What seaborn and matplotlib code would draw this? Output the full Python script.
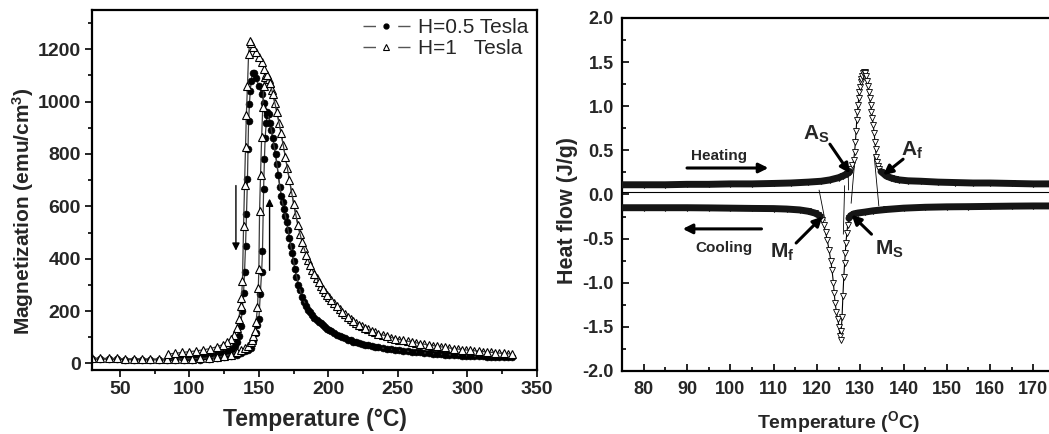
import numpy as np
import pandas as pd
import matplotlib
matplotlib.use('Agg')
import matplotlib.pyplot as plt
from matplotlib.lines import Line2D
from matplotlib.ticker import MultipleLocator, FormatStrFormatter
import seaborn as sns

# ---------------- Left panel data: magnetization vs temperature ----------------
# H = 1 Tesla, cooling branch (T descending)
t1_cool = [332, 326, 320, 314, 308, 302, 296, 290, 284, 278, 272, 266, 260, 254, 248, 242, 236, 231,
           226, 222, 218, 214, 210, 206, 202, 199, 196, 193, 190, 187, 184, 181, 178, 175, 172, 169,
           166, 163, 160, 158, 156, 154, 152, 150, 148, 146, 144.5, 143.5, 142.6, 141.8, 141.0, 140.4,
           139.7, 139.0, 138.2, 137.5, 136.8, 135.5, 134, 132, 130, 127, 124, 120, 115, 110, 105, 100,
           95, 90, 85]
m1_cool = [36, 38, 41, 44, 47, 50, 53, 57, 61, 66, 71, 76, 82, 88, 95, 104, 114, 124,
           136, 148, 162, 178, 197, 218, 242, 262, 285, 310, 340, 375, 415, 465, 530, 610, 700, 790,
           880, 960, 1030, 1070, 1100, 1125, 1150, 1170, 1190, 1210, 1225, 1230, 1180, 1060, 950, 826,
           680, 524, 314, 250, 218, 168, 135, 110, 95, 82, 72, 64, 57, 52, 48, 45,
           42, 39, 36]
# H = 1 Tesla, heating branch (T ascending)
t1_heat = [30, 36, 42, 48, 54, 60, 66, 72, 78, 84, 90, 96, 102, 108, 114, 120, 125, 130, 134, 137,
           140, 142, 144, 145, 146, 147, 148, 149, 149.6, 150, 150.5, 151.2, 152, 152.8, 153.5, 154.3,
           155, 156, 157, 158, 159.5, 161.5, 164.5, 167.5, 170.5, 173.5, 176.5, 179.5, 182.5, 185.5,
           188.5, 191.5, 194.5, 197.5, 200.5, 204, 208, 212, 216, 220, 224, 228.5, 233.5, 239, 245,
           251, 257, 263, 269, 275, 281, 287, 293, 299, 305, 311, 317, 323, 329]
m1_heat = [20, 20, 19, 19, 18, 18, 18, 17, 17, 17, 17, 17, 18, 19, 21, 24, 28, 34, 42, 50,
           58, 66, 80, 90, 103, 125, 160, 214, 290, 360, 581, 720, 864, 980, 1060, 1095,
           1105, 1100, 1088, 1070, 1045, 995, 920, 835, 745, 655, 570, 495, 440, 395,
           357, 325, 297, 273, 252, 230, 207, 187, 170, 155, 142, 130, 119, 109, 99,
           91, 85, 79, 73, 68, 63, 59, 55, 51, 48, 45, 42, 40, 37]
# H = 0.5 Tesla, cooling branch (T descending)
t05_cool = [332, 326, 320, 314, 308, 302, 296, 290, 284, 278, 272, 266, 260, 254, 248, 242, 236, 231,
            226, 222, 218, 214, 210, 206, 202, 199, 196, 193, 190, 187, 184, 181, 178.5, 176, 174, 172,
            170, 168, 166, 164, 162, 160, 158, 156, 154, 152, 150, 148, 146.5, 145.5, 144.5, 143.8,
            143.2, 142.6, 142.2, 141.8, 141.1, 140.4, 139.7, 139, 138, 136.8, 135.7, 134.6, 133, 131,
            128, 124, 120, 115, 110, 105, 100, 95, 90, 85]
m05_cool = [23, 24, 25, 26, 27, 29, 30, 32, 34, 36, 39, 42, 45, 48, 52, 56, 61, 66,
            72, 77, 82, 88, 100, 110, 122, 133, 146, 160, 175, 195, 220, 255, 300, 360, 420, 480,
            540, 590, 640, 720, 800, 860, 920, 960, 995, 1030, 1060, 1090, 1108, 1110, 1080, 1040,
            990, 925, 820, 704, 570, 448, 350, 270, 200, 142, 105, 80, 65, 55,
            46, 39, 35, 31, 28, 26, 25, 24, 23, 22]
# H = 0.5 Tesla, heating branch (T ascending)
t05_heat = [30, 36, 42, 48, 54, 60, 66, 72, 78, 84, 90, 96, 102, 108, 114, 120, 125, 130, 134, 137,
            140, 142, 144, 146, 147.6, 149, 150, 151, 152, 152.6, 153.4, 154, 154.5, 155.3, 156, 157,
            159, 161, 163, 165, 167, 169, 171, 173, 175, 177, 179.5, 182.5, 185.5, 188.5, 191.5,
            194.5, 197.5, 200.5, 204, 208, 212, 216, 220, 224, 228.5, 233.5, 239, 245, 251, 257, 263,
            269, 275, 281, 287, 293, 299, 305, 311, 317, 323, 329]
m05_heat = [17, 17, 16, 16, 15, 15, 15, 14, 14, 14, 14, 14, 14, 15, 16, 19, 23, 28, 34, 40,
            47, 52, 58, 85, 118, 145, 168, 264, 350, 428, 665, 780, 860, 920, 950, 952,
            890, 830, 760, 675, 615, 565, 510, 450, 390, 330, 280, 235, 205, 185, 167,
            153, 139, 127, 116, 105, 96, 88, 81, 75, 69, 63, 58, 54, 50, 47, 43,
            40, 37, 35, 33, 31, 30, 28, 27, 26, 25, 24]

# ---------------- Right panel data: DSC heat flow ----------------
t_dsc_heat = [75, 80, 85, 90, 95, 100, 105, 110, 114, 118, 121, 123, 125, 126, 127, 127.6, 127.9, 128.2,
              128.5, 128.7, 128.9, 129.05, 129.2, 129.35, 129.5, 129.65, 129.8, 129.95, 130.1, 130.25,
              130.4, 130.6, 130.8, 131.0, 131.2, 131.4, 131.6, 131.8, 132.0, 132.2, 132.4, 132.6, 132.8,
              133.0, 133.2, 133.4, 133.55, 133.7, 133.9, 134.1, 134.4, 134.8, 135.3, 136, 137, 138, 139,
              141, 144, 148, 152, 156, 160, 165, 170, 176]
q_dsc_heat = [0.11, 0.11, 0.11, 0.115, 0.115, 0.12, 0.12, 0.125, 0.13, 0.14, 0.15, 0.165, 0.19, 0.21,
              0.235, 0.26, 0.29, 0.33, 0.39, 0.48, 0.60, 0.72, 0.84, 0.93, 1.01, 1.09, 1.16, 1.22, 1.27,
              1.31, 1.345, 1.375, 1.39, 1.39, 1.375, 1.34, 1.29, 1.23, 1.16, 1.09, 1.01, 0.94, 0.87,
              0.79, 0.70, 0.60, 0.51, 0.43, 0.37, 0.32, 0.29, 0.26, 0.24, 0.21, 0.19, 0.175, 0.165,
              0.155, 0.15, 0.14, 0.135, 0.13, 0.13, 0.125, 0.12, 0.12]
t_dsc_cool = [75, 80, 85, 90, 95, 100, 105, 110, 113, 116, 118, 119.5, 120.3, 120.8, 121.2, 121.6, 122.0,
              122.4, 122.8, 123.2, 123.5, 123.8, 124.0, 124.2, 124.5, 124.8, 125.1, 125.3, 125.45, 125.6,
              125.8, 126.0, 126.2, 126.4, 126.55, 126.7, 126.9, 127.1, 127.4, 127.8, 128.5, 129.5, 131,
              133, 136, 140, 145, 150, 155, 160, 165, 170, 176]
q_dsc_cool = [-0.15, -0.15, -0.15, -0.15, -0.152, -0.155, -0.158, -0.16, -0.165, -0.175, -0.19, -0.21,
              -0.23, -0.25, -0.29, -0.35, -0.43, -0.52, -0.63, -0.75, -0.86, -1.0, -1.12, -1.23, -1.33,
              -1.41, -1.50, -1.60, -1.65, -1.55, -1.39, -1.15, -0.94, -0.78, -0.66, -0.55, -0.44, -0.35,
              -0.27, -0.24, -0.22, -0.21, -0.20, -0.185, -0.17, -0.155, -0.145, -0.14, -0.138, -0.135,
              -0.132, -0.13, -0.13]

# construction lines of the DSC analysis (T1, q1, T2, q2)
dsc_guides = [(128.7, 0.36, 127.9, -0.10), (133.2, 0.45, 134.3, -0.13),
              (120.5, 0.05, 121.9, -0.30), (126.4, 0.10, 126.1, -0.45),
              (127.2, 0.32, 127.3, 0.05)]
zero_line = 0.03

# ---------------- Style ----------------
sns.set_style('ticks')
plt.rcParams['font.family'] = ['Liberation Sans', 'DejaVu Sans']
plt.rcParams['mathtext.fontset'] = 'custom'
plt.rcParams['mathtext.rm'] = 'Liberation Sans'
plt.rcParams['mathtext.bf'] = 'Liberation Sans:bold'
plt.rcParams['mathtext.it'] = 'Liberation Sans:italic'
plt.rcParams['axes.linewidth'] = 1.6
plt.rcParams['axes.edgecolor'] = 'black'

fig = plt.figure(figsize=(10.49, 4.34), dpi=100)
ax1 = fig.add_axes([0.0877, 0.1475, 0.4242, 0.8295])
ax2 = fig.add_axes([0.593, 0.1452, 0.4128, 0.8134])

line_col = '#3a3a3a'
dot_kw = dict(marker='o', markersize=5, markerfacecolor='black', markeredgecolor='black',
              markeredgewidth=0.4, color=line_col, linewidth=0.9)
tri_kw = dict(marker='^', markersize=6, markerfacecolor='white', markeredgecolor='black',
              markeredgewidth=0.8, color=line_col, linewidth=0.9)

for t, m in [(t05_heat, m05_heat), (t05_cool, m05_cool)]:
    sns.lineplot(x=t, y=m, ax=ax1, sort=False, estimator=None, **dot_kw)
for t, m in [(t1_heat, m1_heat), (t1_cool, m1_cool)]:
    sns.lineplot(x=t, y=m, ax=ax1, sort=False, estimator=None, **tri_kw)

# hysteresis arrows
ax1.annotate('', xy=(133.5, 420), xytext=(133.5, 690),
             arrowprops=dict(arrowstyle='-|>', color='black', lw=1.0, mutation_scale=11))
ax1.annotate('', xy=(157.7, 640), xytext=(157.7, 345),
             arrowprops=dict(arrowstyle='-|>', color='black', lw=1.0, mutation_scale=11))

ax1.set_xlim(30, 350)
ax1.set_ylim(-25, 1350)
ax1.set_xticks([50, 100, 150, 200, 250, 300, 350])
ax1.xaxis.set_minor_locator(MultipleLocator(25))
ax1.set_yticks([0, 200, 400, 600, 800, 1000, 1200])
ax1.yaxis.set_minor_locator(MultipleLocator(100))
ax1.tick_params(which='both', direction='out', width=1.4, labelsize=14, pad=3)
ax1.tick_params(which='major', length=5)
ax1.tick_params(which='minor', length=3)
for s in ax1.spines.values():
    s.set_visible(True)
    s.set_linewidth(1.6)
for lab in ax1.get_xticklabels() + ax1.get_yticklabels():
    lab.set_fontweight('bold')
ax1.set_xlabel('Temperature (°C)', fontsize=16.5, fontweight='bold')
ax1.set_ylabel(r'Magnetization (emu/cm$^{\mathbf{3}}$)', fontsize=15, fontweight='bold')
ax1.xaxis.set_label_coords(0.50, -0.105)
ax1.yaxis.set_label_coords(-0.125, 0.44)

h1 = Line2D([], [], color='#555555', lw=1.0, linestyle=(0, (9, 16)), marker='o', markersize=3.5,
            markerfacecolor='black', markeredgecolor='black')
h2 = Line2D([], [], color='#555555', lw=1.0, linestyle=(0, (9, 16)), marker='^', markersize=4,
            markerfacecolor='white', markeredgecolor='black', markeredgewidth=0.8)
leg = ax1.legend([h1, h2], ['H=0.5 Tesla', 'H=1   Tesla'], loc='upper right', frameon=False,
                 fontsize=15, handlelength=2.27, handletextpad=0.4, borderaxespad=0.1,
                 labelspacing=0.1, borderpad=0.3)

# ---------------- Right panel ----------------
th = np.array(t_dsc_heat); qh = np.array(q_dsc_heat)
tc = np.array(t_dsc_cool); qc = np.array(q_dsc_cool)

ax2.axhline(zero_line, color='black', lw=0.8)
for x1, y1, x2, y2 in dsc_guides:
    ax2.plot([x1, x2], [y1, y2], color='black', lw=0.6)

tri_dn = dict(marker='v', markersize=4.5, markerfacecolor='white', markeredgecolor='black',
              markeredgewidth=0.6, color='black', linewidth=0.8)
sns.lineplot(x=th, y=qh, ax=ax2, sort=False, estimator=None, **tri_dn)
sns.lineplot(x=tc, y=qc, ax=ax2, sort=False, estimator=None, **tri_dn)

band_kw = dict(color='#151515', lw=5, solid_capstyle='round', zorder=4)
ax2.plot(th, np.where(qh <= 0.265, qh, np.nan), **band_kw)
ax2.plot(tc, np.where(qc >= -0.275, qc, np.nan), **band_kw)

akw = dict(arrowstyle='-|>', color='black', lw=2.2, mutation_scale=14, shrinkA=0, shrinkB=0)
ax2.annotate('', xy=(108.8, 0.30), xytext=(90.0, 0.30), arrowprops=akw)
ax2.text(91.0, 0.44, 'Heating', fontsize=11, fontweight='bold', va='center', ha='left')
ax2.annotate('', xy=(89.0, -0.39), xytext=(107.2, -0.39), arrowprops=akw)
ax2.text(92.0, -0.61, 'Cooling', fontsize=11, fontweight='bold', va='center', ha='left')

ax2.annotate('', xy=(127.6, 0.24), xytext=(123.0, 0.57), arrowprops=akw, zorder=5)
ax2.text(122.8, 0.68, r'A$_{\mathbf{S}}$', fontsize=15, fontweight='bold', ha='right', va='center')
ax2.annotate('', xy=(135.3, 0.22), xytext=(139.9, 0.40), arrowprops=akw, zorder=5)
ax2.text(139.4, 0.50, r'A$_{\mathbf{f}}$', fontsize=15, fontweight='bold', ha='left', va='center')
ax2.annotate('', xy=(121.3, -0.25), xytext=(115.2, -0.55), arrowprops=akw, zorder=5)
ax2.text(114.8, -0.66, r'M$_{\mathbf{f}}$', fontsize=15, fontweight='bold', ha='right', va='center')
ax2.annotate('', xy=(128.0, -0.23), xytext=(132.6, -0.45), arrowprops=akw, zorder=5)
ax2.text(133.5, -0.62, r'M$_{\mathbf{S}}$', fontsize=15, fontweight='bold', ha='left', va='center')

ax2.set_xlim(75, 175)
ax2.set_ylim(-2.0, 2.0)
ax2.set_xticks([80, 90, 100, 110, 120, 130, 140, 150, 160, 170])
ax2.xaxis.set_minor_locator(MultipleLocator(5))
ax2.set_yticks([-2.0, -1.5, -1.0, -0.5, 0.0, 0.5, 1.0, 1.5, 2.0])
ax2.yaxis.set_minor_locator(MultipleLocator(0.25))
ax2.yaxis.set_major_formatter(FormatStrFormatter('%.1f'))
ax2.tick_params(which='both', direction='in', width=1.4, labelsize=13)
ax2.tick_params(axis='x', which='both', pad=7)
ax2.tick_params(axis='y', which='both', pad=6)
ax2.tick_params(which='major', length=5)
ax2.tick_params(which='minor', length=3)
for s in ax2.spines.values():
    s.set_visible(True)
    s.set_linewidth(1.6)
for lab in ax2.get_xticklabels() + ax2.get_yticklabels():
    lab.set_fontweight('bold')
ax2.set_xlabel(r'Temperature ($^{\mathbf{O}}$C)', fontsize=14, fontweight='bold')
ax2.set_ylabel('Heat flow (J/g)', fontsize=15.5, fontweight='bold')
ax2.xaxis.set_label_coords(0.50, -0.108)
ax2.yaxis.set_label_coords(-0.102, 0.455)

fig.savefig('out.png', dpi=100)
